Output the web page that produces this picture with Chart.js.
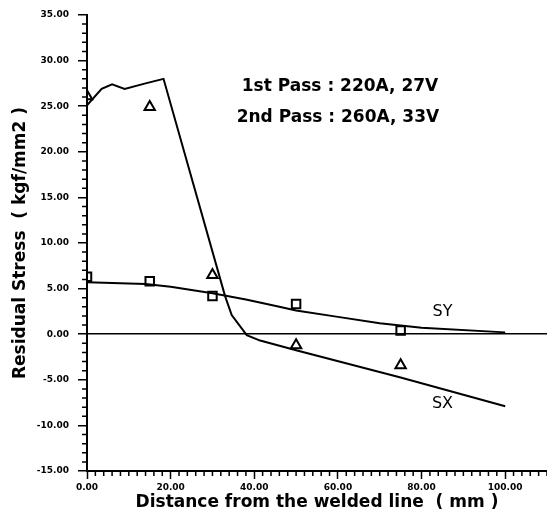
<!DOCTYPE html>
<html>
<head>
<meta charset="utf-8">
<script src="https://cdn.jsdelivr.net/npm/chart.js@4"></script>
<style>
  html, body { margin: 0; padding: 0; background: #fff; overflow: hidden; }
  #wrap { width: 547px; height: 517px; position: relative; }
</style>
</head>
<body>
<div id="wrap"><canvas id="graficoTensao"></canvas></div>
<script>
// curvas calculadas
const sxLineX = [0, 3.5, 6, 9, 14, 18.3, 33, 34.6, 38.2, 41.4, 50, 75, 100];
const sxLineY = [25.1, 26.9, 27.4, 26.9, 27.5, 28.0, 4.2, 2.1, -0.1, -0.7, -1.75, -4.75, -7.9];
const syLineX = [0, 14, 20, 30, 38, 46, 50, 60, 70, 80, 100];
const syLineY = [5.7, 5.5, 5.2, 4.5, 3.8, 3.0, 2.6, 1.9, 1.2, 0.7, 0.2];

// medidas
const measX = [0, 15, 30, 50, 75];
const sxMeas = [26.1, 24.9, 6.5, -1.2, -3.4];
const syMeas = [6.3, 5.8, 4.2, 3.3, 0.4];

// textos no gráfico: [texto, x, y]
const notes = [
  ['1st Pass : 220A, 27V', 60.5, 27.1],
  ['2nd Pass : 260A, 33V', 60, 23.8]
];
const curveLabels = [
  ['SY', 85, 2.4],
  ['SX', 85, -7.6]
];

const xMin = 0, xMax = 110, xMajor = 20, xMinor = 2;
const yMin = -15, yMax = 35, yMajor = 5, yMinor = 1;

const pts = (xs, ys) => xs.map((v, i) => ({ x: v, y: ys[i] }));
const FONT = 'DejaVu Sans';

const minorTicks = {
  id: 'minorTicks',
  afterDraw(chart) {
    const { ctx, scales: { x, y } } = chart;
    ctx.save();
    ctx.strokeStyle = '#000';
    ctx.lineWidth = 1.5;
    ctx.beginPath();
    for (let v = xMin; v <= xMax; v += xMinor) {
      if (v % xMajor === 0) continue;
      const px = x.getPixelForValue(v);
      ctx.moveTo(px, y.bottom);
      ctx.lineTo(px, y.bottom + 5);
    }
    for (let v = yMin; v <= yMax; v += yMinor) {
      if (v % yMajor === 0) continue;
      const py = y.getPixelForValue(v);
      ctx.moveTo(x.left - 5, py);
      ctx.lineTo(x.left, py);
    }
    ctx.stroke();
    ctx.restore();
  }
};

const textos = {
  id: 'textos',
  afterDraw(chart) {
    const { ctx, scales: { x, y } } = chart;
    ctx.save();
    ctx.fillStyle = '#000';
    ctx.textAlign = 'center';
    ctx.textBaseline = 'middle';
    ctx.font = 'bold 17px "' + FONT + '"';
    notes.forEach(([t, vx, vy]) => ctx.fillText(t, x.getPixelForValue(vx), y.getPixelForValue(vy)));
    ctx.font = '16px "' + FONT + '"';
    curveLabels.forEach(([t, vx, vy]) => ctx.fillText(t, x.getPixelForValue(vx), y.getPixelForValue(vy)));
    ctx.restore();
  }
};

new Chart(document.getElementById('graficoTensao'), {
  type: 'line',
  data: {
    datasets: [
      {
        label: 'SX',
        data: pts(sxLineX, sxLineY),
        borderColor: '#000',
        borderWidth: 2,
        pointRadius: 0,
        tension: 0
      },
      {
        label: 'SY',
        data: pts(syLineX, syLineY),
        borderColor: '#000',
        borderWidth: 2,
        pointRadius: 0,
        tension: 0
      },
      {
        label: 'SX medido',
        data: pts(measX, sxMeas),
        showLine: false,
        pointStyle: 'triangle',
        pointRadius: 6,
        pointBorderWidth: 2,
        pointBorderColor: '#000',
        pointBackgroundColor: 'rgba(0,0,0,0)'
      },
      {
        label: 'SY medido',
        data: pts(measX, syMeas),
        showLine: false,
        pointStyle: 'rect',
        pointRadius: 6,
        pointBorderWidth: 2,
        pointBorderColor: '#000',
        pointBackgroundColor: 'rgba(0,0,0,0)'
      }
    ]
  },
  options: {
    responsive: true,
    maintainAspectRatio: false,
    animation: false,
    layout: { autoPadding: false, padding: { top: 15, right: 0, left: 0, bottom: 0 } },
    plugins: { legend: { display: false }, tooltip: { enabled: false } },
    scales: {
      x: {
        type: 'linear',
        min: xMin,
        max: xMax,
        afterFit: (s) => { s.height = 46; s.paddingLeft = 0; s.paddingRight = 0; },
        ticks: {
          stepSize: xMajor,
          includeBounds: false,
          maxRotation: 0,
          padding: 3,
          color: '#000',
          font: { family: FONT, size: 9, weight: 'bold' },
          callback: (v) => Number(v).toFixed(2)
        },
        grid: { drawOnChartArea: false, tickLength: 8, tickColor: '#000', tickWidth: 1.5 },
        border: { color: '#000', width: 2 },
        title: {
          display: true,
          text: 'Distance from the welded line  ( mm )',
          color: '#000',
          font: { family: FONT, size: 17, weight: 'bold' },
          padding: { top: 0, bottom: 4 }
        }
      },
      y: {
        min: yMin,
        max: yMax,
        afterFit: (s) => { s.width = 87; s.paddingTop = 0; s.paddingBottom = 0; },
        ticks: {
          stepSize: yMajor,
          padding: 9,
          color: '#000',
          font: { family: FONT, size: 9, weight: 'bold' },
          callback: (v) => Number(v).toFixed(2)
        },
        grid: {
          tickLength: 9,
          tickColor: '#000',
          tickWidth: 1.5,
          lineWidth: 1.5,
          color: (c) => (c.tick && c.tick.value === 0 ? '#000' : 'rgba(0,0,0,0)')
        },
        border: { color: '#000', width: 2 },
        title: {
          display: true,
          text: 'Residual Stress  ( kgf/mm2 )',
          color: '#000',
          font: { family: FONT, size: 17, weight: 'bold' },
          padding: { top: 10, bottom: 0 }
        }
      }
    }
  },
  plugins: [minorTicks, textos]
});
</script>
</body>
</html>
